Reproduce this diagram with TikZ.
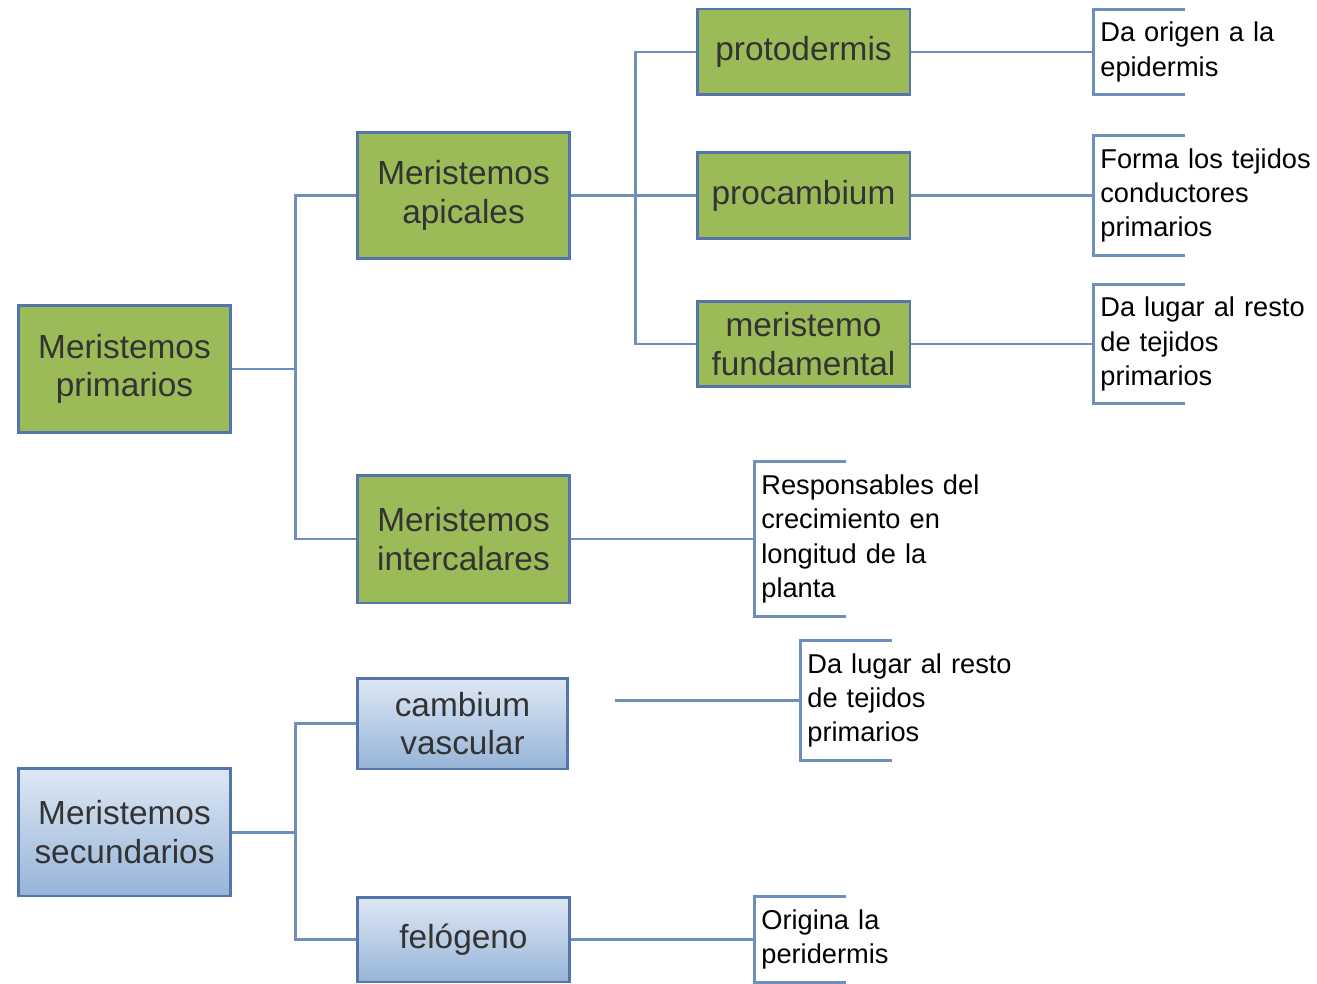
\documentclass[tikz,border=0pt]{standalone}
\usepackage{fontspec}
\setmainfont{Liberation Sans}
\usepackage{tikz}
\definecolor{boxgreen}{RGB}{155,187,89}
\definecolor{boxedge}{RGB}{84,117,172}
\definecolor{linkblue}{RGB}{110,142,188}
\definecolor{shadetop}{RGB}{222,232,244}
\definecolor{shadebot}{RGB}{150,180,216}
\tikzset{
  GreenBox/.style = {rectangle, draw=boxedge, line width=1.7pt, fill=boxgreen,
    minimum width=4.26cm, align=center, text=black!80,
    font=\fontsize{19}{22}\selectfont},
  BlueBox/.style = {GreenBox, top color=shadetop, bottom color=shadebot},
  NoteBox/.style = {anchor=west, text width=4.5cm, inner xsep=0.14cm, align=left,
    font=\fontsize{15.5}{19.6}\selectfont},
  link/.style = {draw=linkblue, line width=1.7pt}
}

\begin{document}
\begin{tikzpicture}[x=0.02cm, y=-0.02cm]
    \useasboundingbox (0,0) rectangle (1317,983);

    % primary meristems
    \node[GreenBox, minimum height=2.56cm] (prim) at (124.5,369) {Meristemos\\primarios};
    \node[GreenBox, minimum height=2.54cm] (api) at (463.5,195.5) {Meristemos\\apicales};
    \node[GreenBox, minimum height=2.56cm] (inter) at (463.5,539) {Meristemos\\intercalares};
    \node[GreenBox, minimum height=1.72cm] (proto) at (803.5,52) {protodermis};
    \node[GreenBox, minimum height=1.72cm] (proc) at (803.5,195.5) {procambium};
    \node[GreenBox, minimum height=1.70cm] (fund) at (803.5,344) {meristemo\\fundamental};

    % secondary meristems
    \node[BlueBox, minimum height=2.56cm] (sec) at (124.5,832) {Meristemos\\secundarios};
    \node[BlueBox, minimum height=1.82cm, minimum width=4.22cm] (camb) at (462.5,723.5) {cambium\\vascular};
    \node[BlueBox, minimum height=1.70cm] (felo) at (463.5,939.5) {felógeno};

    % notes
    \node[NoteBox, minimum height=1.70cm] (epi) at (1093,52) {Da origen a la\\epidermis};
    \node[NoteBox, minimum height=2.40cm] (cond) at (1093,195.5) {Forma los tejidos\\conductores\\primarios};
    \node[NoteBox, minimum height=2.36cm] (resto) at (1093,344) {Da lugar al resto\\de tejidos\\primarios};
    \node[NoteBox, minimum height=3.08cm] (crec) at (754,539) {Responsables del\\crecimiento en\\longitud de la\\planta};
    \node[NoteBox, minimum height=2.38cm] (restob) at (800,700.5) {Da lugar al resto\\de tejidos\\primarios};
    \node[NoteBox, minimum height=1.70cm] (peri) at (754,939.5) {Origina la\\peridermis};
    \coordinate (cambend) at (615,700.5);

    \foreach \n in {epi,cond,resto,crec,restob,peri}
        \draw[link] ([xshift=1.84cm]\n.north west) -- (\n.north west)
            -- (\n.south west) -- ([xshift=1.84cm]\n.south west);

    % connectors
    \draw[link] (prim.east) -- ++(63,0) coordinate (forkA) |- (api.west);
    \draw[link] (forkA) |- (inter.west);
    \draw[link] (api.east) -- ++(64,0) coordinate (forkB) |- (proto.west);
    \draw[link] (forkB) |- (fund.west);
    \draw[link] (forkB) -- (proc.west);
    \draw[link] (sec.east) -- ++(63,0) coordinate (forkC) |- (camb.west);
    \draw[link] (forkC) |- (felo.west);

    \draw[link] (proto.east) -- (epi.west);
    \draw[link] (proc.east) -- (cond.west);
    \draw[link] (fund.east) -- (resto.west);
    \draw[link] (inter.east) -- (crec.west);
    \draw[link] (cambend) -- (restob.west);
    \draw[link] (felo.east) -- (peri.west);
\end{tikzpicture}
\end{document}
